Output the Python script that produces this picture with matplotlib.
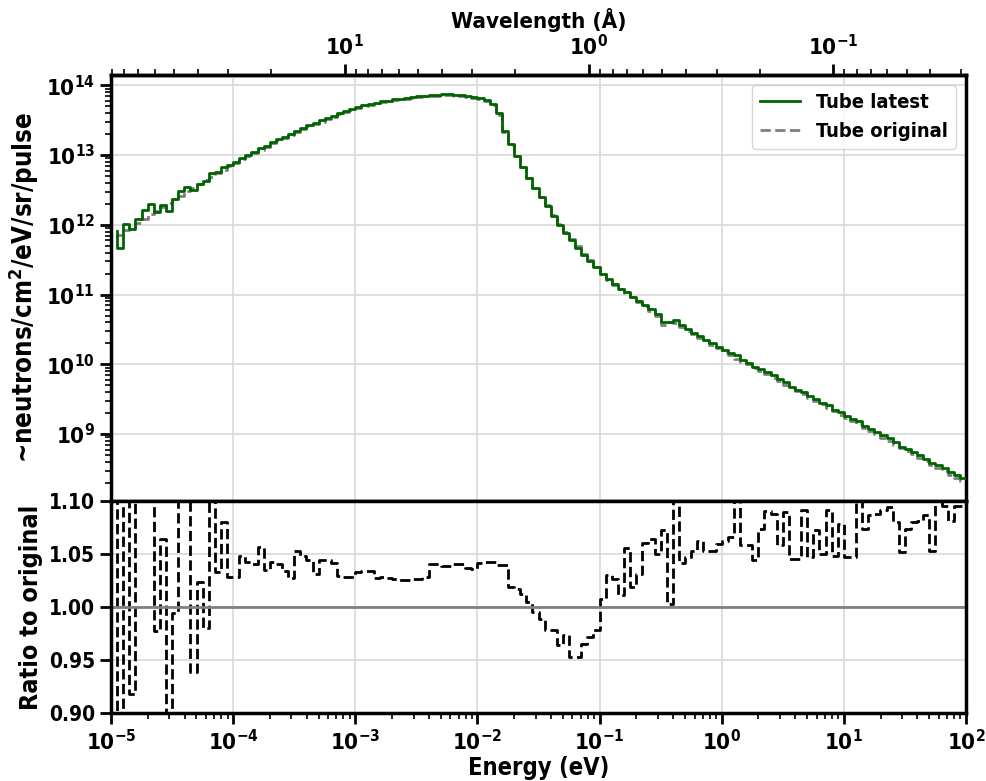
import matplotlib
matplotlib.use('Agg')
import matplotlib.pyplot as plt
import numpy as np

# energy bins: upper edges in eV, 20 bins per decade
energy = np.logspace(-4.95, 2.0, 140)

# log10 of the original tube spectrum (~neutrons/cm2/eV/sr/pulse)
original_log = [
    11.80, 11.86, 11.92, 11.98, 12.03, 12.09, 12.15, 12.20, 12.26, 12.31,
    12.37, 12.42, 12.48, 12.53, 12.58, 12.64, 12.69, 12.74, 12.79, 12.84,
    12.89, 12.94, 12.99, 13.03, 13.08, 13.12, 13.17, 13.21, 13.25, 13.29,
    13.33, 13.37, 13.41, 13.45, 13.48, 13.52, 13.55, 13.59, 13.62, 13.65,
    13.68, 13.70, 13.72, 13.74, 13.76, 13.77, 13.79, 13.80, 13.81, 13.82,
    13.83, 13.84, 13.845, 13.85, 13.855, 13.855, 13.85, 13.845, 13.835, 13.82,
    13.80, 13.77, 13.72, 13.58, 13.33, 13.15, 12.98, 12.83, 12.67, 12.53,
    12.40, 12.28, 12.14, 12.01, 11.90, 11.80, 11.69, 11.58, 11.49, 11.40,
    11.29, 11.21, 11.14, 11.08, 11.02, 10.96, 10.90, 10.83, 10.77, 10.70,
    10.57, 10.60, 10.59, 10.54, 10.48, 10.43, 10.38, 10.33, 10.28, 10.23,
    10.18, 10.13, 10.08, 10.04, 10.00, 9.95, 9.90, 9.855, 9.81, 9.76,
    9.71, 9.66, 9.615, 9.57, 9.52, 9.47, 9.425, 9.38, 9.33, 9.28,
    9.235, 9.19, 9.14, 9.09, 9.04, 8.995, 8.945, 8.90, 8.85, 8.80,
    8.755, 8.71, 8.66, 8.61, 8.56, 8.515, 8.47, 8.42, 8.37, 8.325,
]

# ratio latest / original per bin
ratio = [
    1.30, 0.65, 1.25, 0.918, 1.15, 1.33, 1.40, 0.977, 1.064, 0.78,
    0.994, 1.16, 1.15, 0.939, 1.023, 0.980, 1.13, 1.033, 1.080, 1.028,
    1.028, 1.048, 1.042, 1.040, 1.056, 1.035, 1.042, 1.040, 1.034, 1.027,
    1.053, 1.048, 1.044, 1.031, 1.044, 1.044, 1.041, 1.029, 1.028, 1.028,
    1.033, 1.034, 1.034, 1.027, 1.028, 1.027, 1.026, 1.025, 1.025, 1.026,
    1.026, 1.028, 1.040, 1.040, 1.038, 1.038, 1.040, 1.040, 1.037, 1.036,
    1.041, 1.042, 1.042, 1.039, 1.039, 1.019, 1.017, 1.012, 1.005, 0.995,
    0.989, 0.978, 0.978, 0.964, 0.974, 0.953, 0.953, 0.965, 0.972, 0.978,
    1.007, 1.030, 1.026, 1.011, 1.055, 1.019, 1.031, 1.060, 1.064, 1.050,
    1.072, 1.003, 1.12, 1.041, 1.047, 1.053, 1.062, 1.053, 1.053, 1.059,
    1.062, 1.066, 1.12, 1.058, 1.058, 1.044, 1.073, 1.090, 1.087, 1.058,
    1.089, 1.045, 1.045, 1.091, 1.047, 1.072, 1.050, 1.091, 1.048, 1.078,
    1.047, 1.047, 1.12, 1.073, 1.086, 1.087, 1.091, 1.094, 1.080, 1.052,
    1.073, 1.080, 1.081, 1.086, 1.053, 1.11, 1.095, 1.081, 1.095, 1.095,
]

original = 10 ** np.array(original_log)
latest = original * np.array(ratio)

plt.rcParams['font.family'] = 'DejaVu Sans'
plt.rcParams['font.stretch'] = 'condensed'
plt.rcParams['font.weight'] = 'bold'
plt.rcParams['axes.labelweight'] = 'bold'

fig, (ax1, ax2) = plt.subplots(2, 1, sharex=True, figsize=(9.86, 7.81), dpi=100,
                               gridspec_kw={'height_ratios': [2, 1], 'hspace': 0})
fig.subplots_adjust(left=0.1126, right=0.9797, top=0.904, bottom=0.0867)

# top panel: spectra
ax1.step(energy, latest, where='pre', color='darkgreen', lw=2, label='Tube latest', zorder=3)
ax1.step(energy, original, where='pre', color='gray', lw=2, ls='--', label='Tube original', zorder=2)
ax1.set_xscale('log')
ax1.set_yscale('log')
ax1.set_xlim(1e-5, 1e2)
ax1.set_ylabel(r'~neutrons/cm$^{\mathdefault{2}}$/eV/sr/pulse', fontsize=18.5)
ax1.grid(True, which='major', color='0.85', lw=1.2)
ax1.legend(loc='upper right', prop={'weight': 'bold', 'size': 14.5, 'stretch': 'condensed'})

# wavelength axis on top
def e2l(e):
    e = np.asarray(e, dtype=float)
    with np.errstate(divide='ignore', invalid='ignore'):
        return 0.286 / np.sqrt(e)

def l2e(l):
    l = np.asarray(l, dtype=float)
    with np.errstate(divide='ignore', invalid='ignore'):
        return (0.286 / l) ** 2

secax = ax1.secondary_xaxis('top', functions=(e2l, l2e))
secax.set_xlabel('Wavelength (Å)', fontsize=16, fontweight='bold')
secax.tick_params(which='major', length=8, width=2, labelsize=16)
secax.tick_params(which='minor', length=4, width=1.2)

# bottom panel: ratio
ax2.step(energy, ratio, where='pre', color='black', lw=2, ls='--')
ax2.axhline(1.0, color='gray', lw=2)
ax2.set_ylim(0.9, 1.1)
ax2.set_yticks([0.90, 0.95, 1.00, 1.05, 1.10])
ax2.set_yticklabels(['0.90', '0.95', '1.00', '1.05', '1.10'])
ax2.set_xlabel('Energy (eV)', fontsize=17, labelpad=1)
ax2.set_ylabel('Ratio to original', fontsize=18)
ax2.grid(True, which='major', color='0.85', lw=1.2)

for ax in (ax1, ax2):
    for s in ax.spines.values():
        s.set_linewidth(2.5)
    ax.tick_params(which='major', length=8, width=2, labelsize=16)
    ax.tick_params(which='minor', length=4, width=1.2)
ax2.tick_params(axis='y', labelsize=15)
ax1.tick_params(axis='x', which='both', bottom=False, labelbottom=False)
secax.spines['top'].set_linewidth(2.5)

fig.savefig('out.png', dpi=100)
